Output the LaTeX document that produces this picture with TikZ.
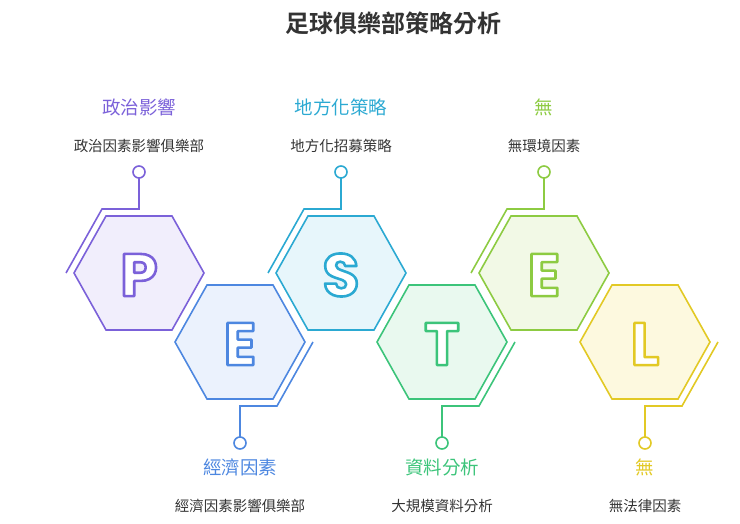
\documentclass[tikz,border=0pt]{standalone}
\usepackage{fontspec}
\setmainfont{Noto Sans CJK TC}
\newfontfamily\cjkb[BoldFont=* Bold]{Noto Sans CJK TC}
\newfontfamily\letterfont{Poppins Bold}
\definecolor{cP}{HTML}{7B61D9}\definecolor{fP}{HTML}{F1EEFC}
\definecolor{cE}{HTML}{4D87E0}\definecolor{fE}{HTML}{EBF2FD}
\definecolor{cS}{HTML}{2BA9D2}\definecolor{fS}{HTML}{E7F6FB}
\definecolor{cT}{HTML}{3CC47A}\definecolor{fT}{HTML}{E9F9EF}
\definecolor{cX}{HTML}{8DCB42}\definecolor{fX}{HTML}{F2F9E6}
\definecolor{cL}{HTML}{E2C925}\definecolor{fL}{HTML}{FDF9DF}
\definecolor{txt}{HTML}{333333}
\newcommand{\outl}[2]{{\special{pdf:code q 2 Tr 2.6 w 1 j}\letterfont\fontsize{60}{60}\selectfont\color{#1}\special{pdf:code 1 1 1 rg}#2\special{pdf:code Q}}}
\tikzset{
 ttl/.style={font=\fontsize{18.5}{22}\selectfont},
 sub/.style={font=\fontsize{14.5}{17}\selectfont, text=txt},
 ln/.style={line width=1.6pt},
}
\begin{document}
\begin{tikzpicture}[x=1pt,y=-1pt]
\useasboundingbox (0,0) rectangle (740,524);
\node[font=\cjkb\bfseries\fontsize{24}{28}\selectfont, text=txt] (title) at (393,23) {足球俱樂部策略分析};
\foreach \cx/\cy/\c/\f/\L/\up/\T/\S in {
 139/273/cP/fP/P/1/政治影響/政治因素影響俱樂部,
 240/342/cE/fE/E/0/經濟因素/經濟因素影響俱樂部,
 341/273/cS/fS/S/1/地方化策略/地方化招募策略,
 442/342/cT/fT/T/0/資料分析/大規模資料分析,
 544/273/cX/fX/E/1/無/無環境因素,
 645/342/cL/fL/L/0/無/無法律因素}{
 \draw[ln, draw=\c, fill=\f] (\cx-65,\cy) -- (\cx-33,\cy-57) -- (\cx+33,\cy-57) -- (\cx+65,\cy) -- (\cx+33,\cy+57) -- (\cx-33,\cy+57) -- cycle;
 \node at (\cx,\cy+2) {\outl{\c}{\L}};
 \ifnum\up=1
  \draw[ln, draw=\c] (\cx-73,\cy) -- (\cx-37,\cy-64) -- (\cx,\cy-64) -- (\cx,\cy-95);
  \draw[ln, draw=\c, fill=white] (\cx,\cy-101) circle (6);
  \node[ttl, text=\c] at (\cx,\cy-166) {\T};
  \node[sub] at (\cx,\cy-127) {\S};
 \else
  \draw[ln, draw=\c] (\cx+73,\cy) -- (\cx+37,\cy+64) -- (\cx,\cy+64) -- (\cx,\cy+95);
  \draw[ln, draw=\c, fill=white] (\cx,\cy+101) circle (6);
  \node[ttl, text=\c] at (\cx,\cy+125) {\T};
  \node[sub] at (\cx,\cy+164) {\S};
 \fi
}
\end{tikzpicture}
\end{document}
